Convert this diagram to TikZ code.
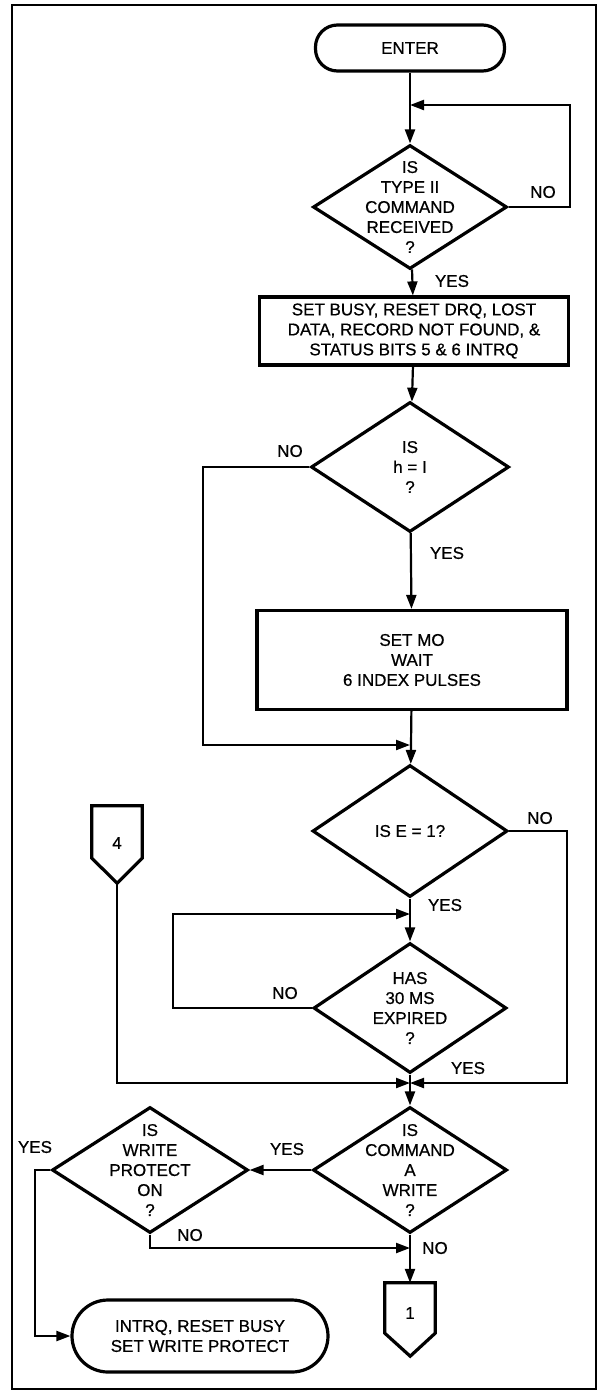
\documentclass[tikz,border=0pt]{standalone}
\usepackage{fontspec}
\setmainfont{Liberation Sans}[FakeBold=0.6]
\usetikzlibrary{shapes.geometric, arrows.meta}

\tikzset{
    every node/.style={font=\fontsize{17}{20}\selectfont},
    shapeline/.style={draw, line width=3.2pt},
    terminal/.style={shapeline, rectangle, rounded corners=22pt, inner sep=0pt, align=center},
    process/.style={shapeline, rectangle, inner sep=0pt, align=center},
    decision/.style={shapeline, diamond, inner sep=0pt},
    offpage/.style={rectangle, minimum width=50pt, inner sep=0pt, font=\fontsize{14}{16}\selectfont},
    answer/.style={inner sep=0pt},
    flow/.style={line width=2.2pt, -{Triangle[length=14pt,width=10pt]}}
}

\begin{document}
\begin{tikzpicture}[x=1pt, y=-1pt]
    \useasboundingbox (0,0) rectangle (599,1393);
    \draw[line width=1.6pt] (12,5) rectangle (596,1389);

    \node[terminal, minimum width=189pt, minimum height=46pt] (enter) at (410,48) {ENTER};
    \node[decision, minimum width=194pt, minimum height=124pt,
        label={[align=center]center:{IS\\TYPE II\\COMMAND\\RECEIVED\\?}}] (d1) at (410,207) {};
    \node[process, minimum width=309pt, minimum height=68pt] (busy) at (414,331)
        {SET BUSY, RESET DRQ, LOST\\DATA, RECORD NOT FOUND, \&\\STATUS BITS 5 \& 6 INTRQ};
    \node[decision, minimum width=198pt, minimum height=130pt,
        label={[align=center]center:{IS\\h = I\\?}}] (d2) at (410,467) {};
    \node[process, minimum width=310pt, minimum height=99pt] (motor) at (412,660)
        {SET MO\\WAIT\\6 INDEX PULSES};
    \node[decision, minimum width=195pt, minimum height=132pt,
        label={center:{IS E = 1?}}] (d3) at (410,831) {};
    \node[decision, minimum width=193pt, minimum height=130pt,
        label={[align=center]center:{HAS\\30 MS\\EXPIRED\\?}}] (d4) at (410,1008) {};
    \node[decision, minimum width=194pt, minimum height=126pt,
        label={[align=center]center:{IS\\COMMAND\\A\\WRITE\\?}}] (d5) at (410,1170) {};
    \node[decision, minimum width=196pt, minimum height=126pt,
        label={[align=center]center:{IS\\WRITE\\PROTECT\\ON\\?}}] (d6) at (150,1170) {};
    \node[terminal, rounded corners=36pt, minimum width=256pt, minimum height=72pt] (wprot) at (200,1336)
        {INTRQ, RESET BUSY\\SET WRITE PROTECT};
    \node[offpage, minimum height=52pt, label={[yshift=-11pt]center:4}] (c4) at (117,832) {};
    \node[offpage, minimum height=50pt, label={[yshift=-5pt]center:1}] (c1) at (410,1308) {};

    % off-page connector outlines
    \draw[shapeline, line join=miter] (c4.south west) -- (c4.north west) -- (c4.north east)
        -- (c4.south east) -- ++(-25,25) coordinate (c4tip) -- cycle;
    \draw[shapeline, line join=miter] (c1.south west) -- (c1.north west) -- (c1.north east)
        -- (c1.south east) -- ++(-25,23) -- cycle;

    \coordinate (j1) at (410,105);
    \coordinate (j2) at (410,745);
    \coordinate (j3) at (410,914);
    \coordinate (j4) at (410,1083);
    \coordinate (j5) at (410,1248);
    \coordinate (r1) at (570,105);
    \coordinate (l2) at (203,745);
    \coordinate (r3) at (567,1083);
    \coordinate (l4) at (173,914);
    \coordinate (l6) at (35,1336);

    \draw[flow] (enter) -- (d1);
    \draw[flow] (d1.east) -| (r1) -- (j1);
    \draw[flow] (d1) -- (busy);
    \draw[flow] (busy) -- (d2);
    \draw[flow] (d2) -- (motor);
    \draw[flow] (d2.west) -| (l2) -- (j2);
    \draw[flow] (motor) -- (d3);
    \draw[flow] (d3) -- (d4);
    \draw[flow] (d3.east) -| (r3) -- (j4);
    \draw[flow] (d4.west) -| (l4) -- (j3);
    \draw[flow] (d4) -- (d5);
    \draw[flow] (c4tip) |- (j4);
    \draw[flow] (d5.west) -- (d6.east);
    \draw[flow] (d6.west) -| (l6) -- (wprot.west);
    \draw[flow] (d6.south) |- (j5);
    \draw[flow] (d5) -- (c1);

    \node[answer] (no1) at (543,192) {NO};
    \node[answer] (yes1) at (452,281) {YES};
    \node[answer] (no2) at (290,451) {NO};
    \node[answer] (yes2) at (447,553) {YES};
    \node[answer] (no3) at (540,818) {NO};
    \node[answer] (yes3) at (445,905) {YES};
    \node[answer] (no4) at (285,993) {NO};
    \node[answer] (yes4) at (468,1068) {YES};
    \node[answer] (yes5) at (287,1149) {YES};
    \node[answer] (yes6) at (35,1147) {YES};
    \node[answer] (no6) at (190,1235) {NO};
    \node[answer] (no5) at (435,1248) {NO};
\end{tikzpicture}
\end{document}
